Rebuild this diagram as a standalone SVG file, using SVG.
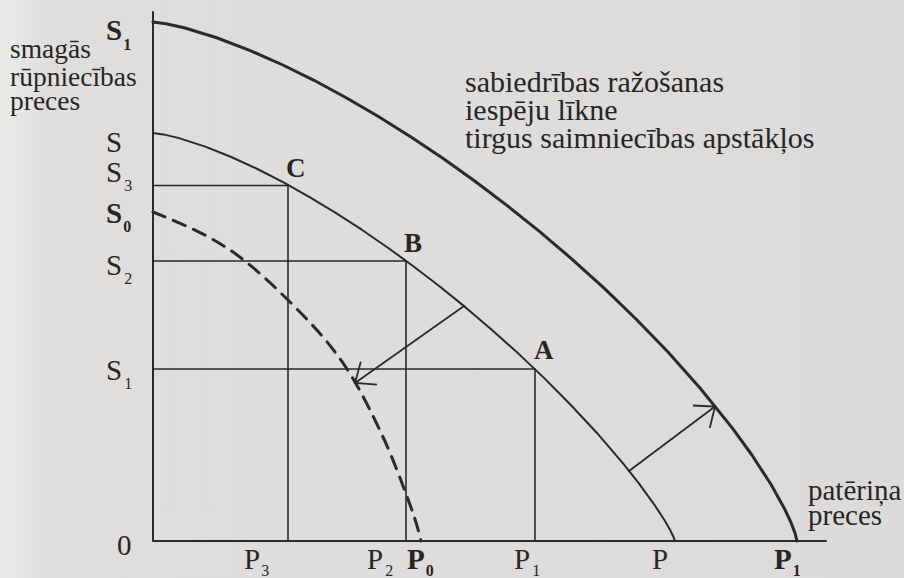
<svg xmlns="http://www.w3.org/2000/svg" width="904" height="578" viewBox="0 0 904 578">
<defs>
<style>
.t{font-family:"Liberation Serif","Times New Roman",serif;fill:#262626}
.lbl{font-size:29px}
.sub{font-size:16px}
.b{font-weight:bold}
.ln{fill:none;stroke:#2a2a2a;stroke-linecap:round;stroke-linejoin:round}
</style>
<linearGradient id="bg" x1="0" y1="0" x2="1" y2="0">
<stop offset="0" stop-color="#ebebe9"/>
<stop offset="0.05" stop-color="#dfdedc"/>
<stop offset="1" stop-color="#dcdbd9"/>
</linearGradient>
<marker id="v" markerUnits="userSpaceOnUse" markerWidth="40" markerHeight="40" viewBox="-20 -20 40 40" refX="0" refY="0" orient="auto">
<path d="M-17,-14 L0,0 L-17,14" fill="none" stroke="#2a2a2a" stroke-width="1.8"/>
</marker>
</defs>
<rect width="904" height="578" fill="url(#bg)"/>

<g id="axes">
<path class="ln" d="M153,12 V541 H826" stroke-width="2"/>
</g>

<g id="grid">
<path class="ln" d="M153,185.5 H288 V541 M153,261 H406 V541 M153,369 H535 V541" stroke-width="1.6"/>
</g>

<g id="curve-outer">
<polyline class="ln" stroke-width="3" points="153,22 165.9,23.7 185.2,28 217.4,38 249.6,50.3 281.8,64.5 314,80.3 346.2,97.7 378.4,116.5 410.6,136.7 442.8,158.3 475,181.2 507.2,205.6 539.4,231.4 571.6,258.8 603.8,287.9 636,319 668.2,352.3 700.4,388.5 732.6,428.4 751.9,455 771.2,484.8 784.1,507.9 790.6,521.6 795.1,533.3 797,541"/>
</g>

<g id="curve-inner">
<polyline class="ln" stroke-width="2" points="153,133 163.4,134.4 179.1,138.1 205.2,146.6 231.3,157 257.4,169 283.5,182.4 309.6,197.1 335.7,212.9 361.8,229.7 387.9,247.7 414,266.7 440.1,286.7 466.2,307.9 492.3,330.2 518.4,353.6 544.5,378.4 570.6,404.7 596.7,432.7 622.8,463.1 638.5,482.8 654.1,504.3 664.6,520.3 669.8,529.4 673.4,536.7 675,541"/>
</g>

<g id="curve-dashed">
<path class="ln" stroke-width="3" stroke-dasharray="13 9" stroke-linecap="butt" d="M153,212 C178,222 204.2,233 227,248 C249.8,263 270.7,282.8 290,302 C309.3,321.2 327.5,340.5 343,363 C358.5,385.5 371.3,412 383,437 C394.7,462 406.7,495.8 413,513 C416,522 419,532 421,541"/>
</g>

<g id="connectors">
<line class="ln" x1="464" y1="306" x2="355" y2="383" stroke-width="1.8" marker-end="url(#v)"/>
<line class="ln" x1="629" y1="471" x2="715" y2="406.5" stroke-width="1.8" marker-end="url(#v)"/>
</g>

<g id="point-C"><text class="t b" x="286" y="177" font-size="27">C</text></g>
<g id="point-B"><text class="t b" x="404" y="252" font-size="27">B</text></g>
<g id="point-A"><text class="t b" x="534" y="359" font-size="27">A</text></g>

<g id="y-labels">
<text class="t lbl b" x="106" y="40">S<tspan class="sub" dx="1" dy="10">1</tspan></text>
<text class="t lbl" x="106" y="152">S</text>
<text class="t lbl" x="106" y="182">S<tspan class="sub" dx="2" dy="9">3</tspan></text>
<text class="t lbl b" x="106" y="223">S<tspan class="sub" dx="1" dy="9">0</tspan></text>
<text class="t lbl" x="106" y="275">S<tspan class="sub" dx="2" dy="9">2</tspan></text>
<text class="t lbl" x="106" y="380">S<tspan class="sub" dx="2" dy="9">1</tspan></text>
</g>

<g id="x-labels">
<text class="t lbl" x="117" y="555">0</text>
<text class="t lbl" x="244" y="569">P<tspan class="sub" dx="1" dy="7">3</tspan></text>
<text class="t lbl" x="367" y="569">P<tspan class="sub" dx="2" dy="7">2</tspan></text>
<text class="t lbl b" x="407" y="569">P<tspan class="sub" dx="1" dy="7">0</tspan></text>
<text class="t lbl" x="514" y="569">P<tspan class="sub" dx="2" dy="7">1</tspan></text>
<text class="t lbl" x="652" y="569">P</text>
<text class="t lbl b" x="774" y="569">P<tspan class="sub" dx="1" dy="7">1</tspan></text>
</g>

<g id="axis-titles">
<text class="t" font-size="27.5" x="10" y="58">smagās</text>
<text class="t" font-size="27.5" x="10" y="86">rūpniecības</text>
<text class="t" font-size="27.5" x="10" y="110">preces</text>
<text class="t" font-size="29" x="808" y="500">patēriņa</text>
<text class="t" font-size="29" x="808" y="525">preces</text>
</g>

<g id="curve-title">
<text class="t" font-size="30" x="465" y="92">sabiedrības ražošanas</text>
<text class="t" font-size="30" x="465" y="120">iespēju līkne</text>
<text class="t" font-size="30" x="465" y="148">tirgus saimniecības apstākļos</text>
</g>
</svg>
